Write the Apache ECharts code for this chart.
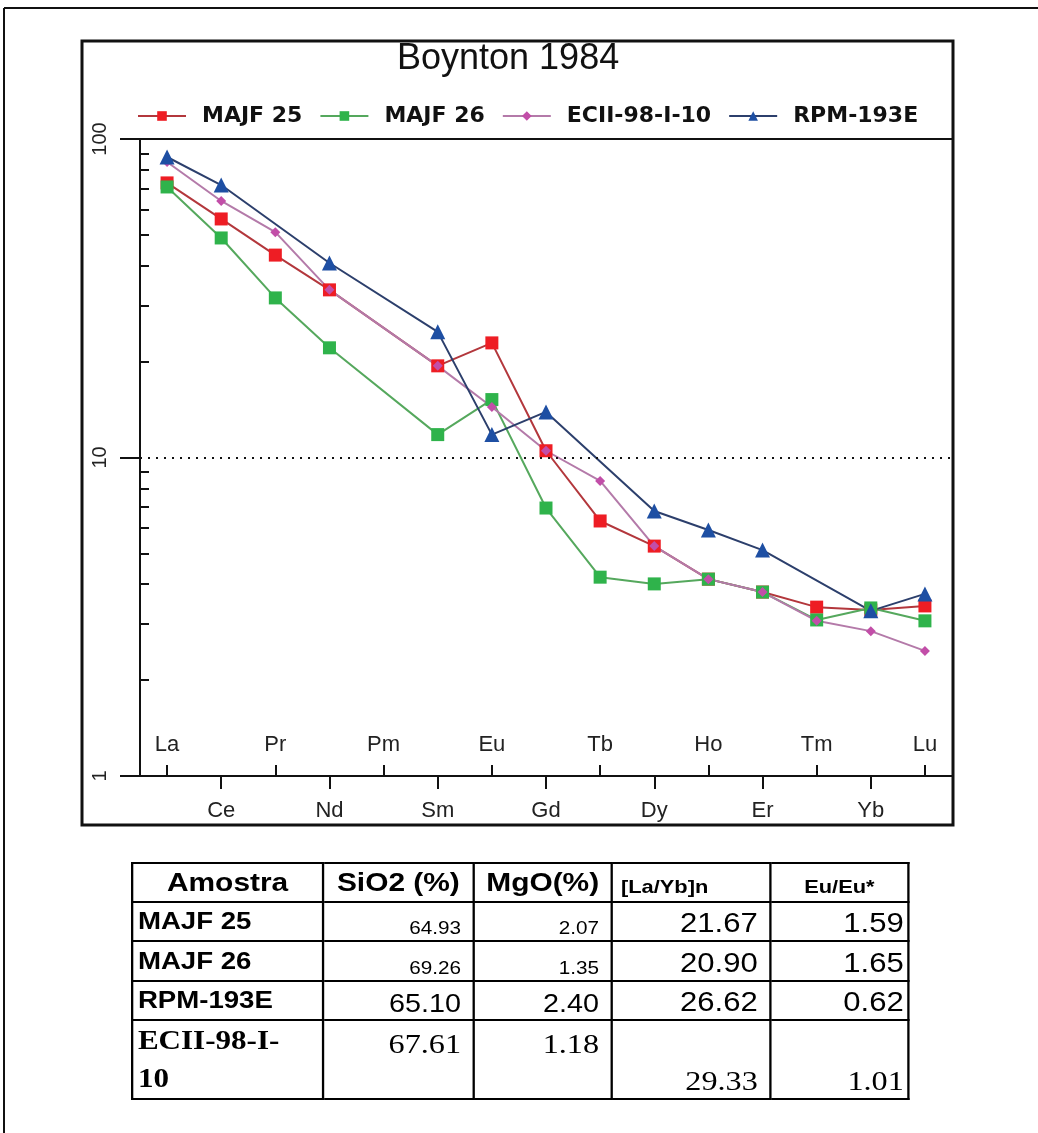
<!DOCTYPE html>
<html>
<head>
<meta charset="utf-8">
<script src="https://cdn.jsdelivr.net/npm/echarts@6/dist/echarts.min.js"></script>
<style>
  html, body { margin: 0; padding: 0; background: #fff; }
  #chart { position: absolute; left: 0; top: 0; width: 1038px; height: 1133px; }
  /* the table is laid out a little narrow and widened horizontally */
  #tbl {
    position: absolute; left: 131px; top: 862px;
    transform: scaleX(1.15); transform-origin: 0 0;
    border-collapse: collapse; table-layout: fixed;
    font-family: "Liberation Sans", Arial, sans-serif;
    color: #000;
  }
  #tbl td, #tbl th { border: 2px solid #000; padding: 0 4px; overflow: hidden; white-space: nowrap; box-sizing: border-box; }
  #tbl tr { height: 39px; }
  #tbl tr:nth-child(4) { height: 40px; }
  #tbl tr:nth-child(5) { height: 39px; }
  #tbl tr.serif { height: 76px; }
  #tbl th { font-weight: bold; font-size: 26px; text-align: center; }
  #tbl th.small { font-size: 19px; vertical-align: bottom; padding-bottom: 3px; }
  #tbl th.left { text-align: left; padding-left: 7px; }
  #tbl td { text-align: right; font-size: 27px; vertical-align: bottom; padding-right: 10px; padding-bottom: 1px; }
  #tbl td:last-child { padding-right: 3px; }
  #tbl td.name { text-align: left; font-weight: bold; font-size: 24px; vertical-align: middle; padding-left: 4px; }
  #tbl td.sm { font-size: 18px; padding-bottom: 1px; }
  #tbl td.mid2 { font-size: 25px; }
  #tbl tr.serif td { font-family: "Liberation Serif", "Times New Roman", serif; font-size: 28px; }
  #tbl tr.serif td.name { white-space: normal; line-height: 38px; font-size: 27px; }
  #tbl tr.serif td.name span { display: inline-block; max-width: 135px; }
  #tbl tr.serif td.mid { vertical-align: top; padding-top: 7px; }
</style>
</head>
<body>
<div id="chart"></div>
<table id="tbl"></table>
<script>
// Rare-earth elements along the x axis (chondrite normalised, Boynton 1984)
const elements = ['La', 'Ce', 'Pr', 'Nd', 'Pm', 'Sm', 'Eu', 'Gd', 'Tb', 'Dy', 'Ho', 'Er', 'Tm', 'Yb', 'Lu'];

// Normalised concentrations (null = not analysed)
const majf25 = [72.8, 56.1, 43.2, 33.6, null, 19.4, 22.9, 10.5, 6.32, 5.27, 4.15, 3.78, 3.39, 3.32, 3.42];
const majf26 = [70.7, 48.9, 31.7, 22.1, null, 11.8, 15.2, 6.94, 4.21, 4.01, 4.15, 3.78, 3.09, 3.37, 3.07];
const ecii9810 = [84.7, 63.9, 51.0, 33.6, null, 19.4, 14.4, 10.5, 8.44, 5.27, 4.15, 3.78, 3.07, 2.85, 2.47];
const rpm193e = [87.8, 71.7, null, 40.8, null, 24.8, 11.8, 13.9, null, 6.79, 5.92, 5.12, null, 3.30, 3.73];

// Minor tick positions on the logarithmic axis
const yMinorTicks = [2, 3, 4, 5, 6, 7, 8, 9, 20, 30, 40, 50, 60, 70, 80, 90];
const yDottedLevel = 10;
const yTopLevel = 100;

// Whole-rock summary table
const tableHeaders = ['Amostra', 'SiO2 (%)', 'MgO(%)', '[La/Yb]n', 'Eu/Eu*'];
const sampleNames = ['MAJF 25', 'MAJF 26', 'RPM-193E', 'ECII-98-I-10'];
const sio2 = ['64.93', '69.26', '65.10', '67.61'];
const mgo = ['2.07', '1.35', '2.40', '1.18'];
const laYbN = ['21.67', '20.90', '26.62', '29.33'];
const euAnomaly = ['1.59', '1.65', '0.62', '1.01'];

const chart = echarts.init(document.getElementById('chart'), null, { renderer: 'canvas' });

const labelFont = 'Liberation Sans';
const evenIdx = (i) => i % 2 === 0;
const oddIdx = (i) => i % 2 === 1;

function lineSeries(name, data, symbol, size, fill, stroke) {
  return {
    name: name,
    type: 'line',
    data: data,
    xAxisIndex: 0,
    yAxisIndex: 0,
    connectNulls: true,
    symbol: symbol,
    symbolSize: size,
    showSymbol: true,
    itemStyle: { color: fill, borderWidth: 0 },
    lineStyle: { color: stroke, width: 2 },
    emphasis: { disabled: true },
    z: 3
  };
}

const series = [
  lineSeries('MAJF 25', majf25, 'rect', 13, '#ee1d24', '#b3373c'),
  lineSeries('MAJF 26', majf26, 'rect', 13, '#2fb34b', '#55a85d'),
  lineSeries('ECII-98-I-10', ecii9810, 'diamond', 10, '#c24ea8', '#b47aa9'),
  lineSeries('RPM-193E', rpm193e, 'triangle', 15, '#1e4fa3', '#2c3f6c')
];

series[0].markLine = {
  silent: true,
  symbol: 'none',
  label: { show: false },
  data: [
    { yAxis: yDottedLevel, lineStyle: { color: '#111', width: 2, type: [2, 6] } },
    { yAxis: yTopLevel, lineStyle: { color: '#111', width: 2, type: 'solid' } }
  ]
};

const option = {
  backgroundColor: '#fff',
  animation: false,
  title: {
    text: 'Boynton 1984',
    left: 392,
    top: 36,
    textStyle: { fontFamily: labelFont, fontSize: 36, fontWeight: 'normal', color: '#111' }
  },
  legend: {
    left: 132,
    top: 100,
    itemWidth: 48,
    itemHeight: 12,
    itemGap: 17,
    textStyle: {
      fontFamily: 'DejaVu Sans',
      fontWeight: 'bold',
      fontSize: 22,
      color: '#111',
      padding: [0, 0, 0, 11]
    },
    data: ['MAJF 25', 'MAJF 26', 'ECII-98-I-10', 'RPM-193E']
  },
  grid: { left: 140, right: 86, top: 139, bottom: 357, containLabel: false },
  xAxis: [
    {
      type: 'category',
      data: elements,
      position: 'bottom',
      boundaryGap: true,
      axisLine: { show: true, lineStyle: { color: '#111', width: 2 } },
      axisTick: { show: true, inside: true, length: 11, alignWithLabel: true, interval: evenIdx, lineStyle: { color: '#111', width: 2 } },
      axisLabel: { show: true, inside: true, interval: evenIdx, margin: 20, fontFamily: labelFont, fontSize: 22, color: '#222' },
      splitLine: { show: false }
    },
    {
      type: 'category',
      data: elements,
      position: 'bottom',
      boundaryGap: true,
      axisLine: { show: false },
      axisTick: { show: true, inside: false, length: 13, alignWithLabel: true, interval: oddIdx, lineStyle: { color: '#111', width: 2 } },
      axisLabel: { show: true, inside: false, interval: oddIdx, margin: 24, fontFamily: labelFont, fontSize: 22, color: '#222' },
      splitLine: { show: false }
    }
  ],
  yAxis: [
    {
      type: 'log',
      logBase: 10,
      min: 1,
      max: 100,
      position: 'left',
      axisLine: { show: true, lineStyle: { color: '#111', width: 2 } },
      axisTick: { show: true, inside: false, length: 20, lineStyle: { color: '#111', width: 2 } },
      axisLabel: { show: true, rotate: 90, margin: 30, fontFamily: labelFont, fontSize: 20, color: '#222' },
      splitLine: { show: false },
      minorTick: { show: false }
    },
    {
      type: 'log',
      logBase: 10,
      min: 1,
      max: 100,
      position: 'left',
      offset: 0,
      axisLine: { show: false },
      axisTick: { show: true, inside: true, length: 9, customValues: yMinorTicks, lineStyle: { color: '#111', width: 2 } },
      axisLabel: { show: false },
      splitLine: { show: false }
    }
  ],
  graphic: [
    // page frame
    { type: 'line', shape: { x1: 4, y1: 8, x2: 1038, y2: 8 }, style: { stroke: '#111', lineWidth: 2 }, z: 10 },
    { type: 'line', shape: { x1: 4, y1: 8, x2: 4, y2: 1133 }, style: { stroke: '#111', lineWidth: 2 }, z: 10 },
    // chart frame
    { type: 'rect', shape: { x: 82, y: 41, width: 871, height: 784 }, style: { fill: 'none', stroke: '#111', lineWidth: 3 }, z: 10 }
  ],
  series: series
};

chart.setOption(option);

// Build the summary table (column widths before the horizontal widening)
(function buildTable() {
  const tbl = document.getElementById('tbl');
  const widths = [166, 131, 120, 138, 120];
  const cg = document.createElement('colgroup');
  widths.forEach(w => { const c = document.createElement('col'); c.style.width = w + 'px'; cg.appendChild(c); });
  tbl.appendChild(cg);

  const hr = document.createElement('tr');
  tableHeaders.forEach((h, i) => {
    const th = document.createElement('th');
    th.textContent = h;
    if (i === 3) th.className = 'small left';
    else if (i === 4) th.className = 'small';
    hr.appendChild(th);
  });
  tbl.appendChild(hr);

  sampleNames.forEach((name, r) => {
    const tr = document.createElement('tr');
    const serif = name.startsWith('ECII');
    if (serif) tr.className = 'serif';
    const cells = [name, sio2[r], mgo[r], laYbN[r], euAnomaly[r]];
    cells.forEach((v, c) => {
      const td = document.createElement('td');
      if (c === 0) {
        td.className = 'name';
        const s = document.createElement('span');
        s.textContent = v;
        td.appendChild(s);
      } else {
        td.textContent = v;
        if (r < 2 && c <= 2) td.className = 'sm';
        else if (serif && c <= 2) td.className = 'mid';
        else if (!serif && c <= 2) td.className = 'mid2';
      }
      tr.appendChild(td);
    });
    tbl.appendChild(tr);
  });
})();
</script>
</body>
</html>
